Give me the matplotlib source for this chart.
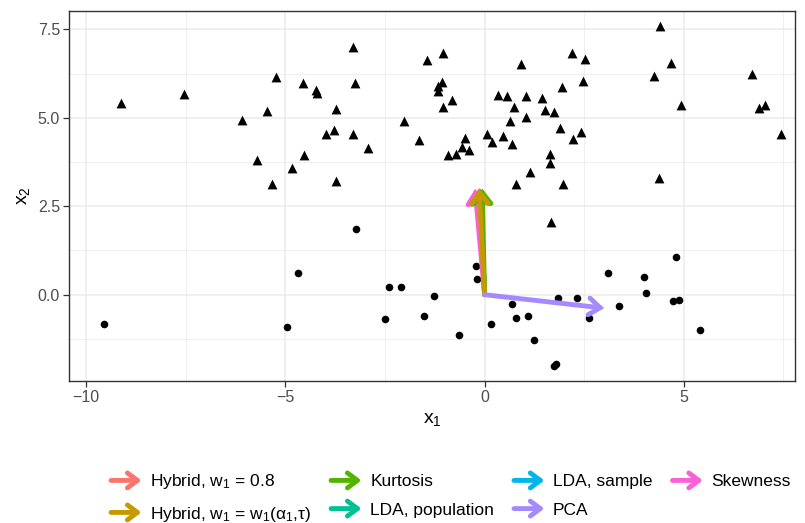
import matplotlib
matplotlib.use("Agg")
import matplotlib.pyplot as plt
import numpy as np
from matplotlib.lines import Line2D
from matplotlib.patches import FancyArrowPatch
from matplotlib.legend_handler import HandlerBase

plt.rcParams['font.family'] = ['Liberation Sans', 'DejaVu Sans']
plt.rcParams['mathtext.fontset'] = 'custom'
plt.rcParams['mathtext.rm'] = 'Liberation Sans'
plt.rcParams['mathtext.it'] = 'Liberation Sans'

# group 1 (triangles)
tri_x = [-9.12, -7.54, -6.09, -5.71, -5.46, -5.34, -5.24, -4.84, -4.56, -4.54,
         -4.24, -4.21, -3.99, -3.78, -3.73, -3.74, -3.31, -3.25, -3.30, -2.92,
         -2.02, -1.65, -1.45, -1.05, -1.16, -1.06, -1.16, -0.82, -1.05, -0.93,
         -0.71, -0.56, -0.48, -0.38, 0.07, 0.19, 0.46, 0.70, 0.34, 0.57,
         1.05, 0.73, 0.63, 1.03, 1.43, 1.51, 1.75, 1.93, 2.47, 2.20,
         2.53, 1.88, 2.42, 2.22, 1.64, 1.65, 1.13, 0.79, 1.97, 1.67,
         4.39, 4.67, 4.24, 4.93, 4.37, 6.72, 6.89, 7.03, 7.44, 0.91]
tri_y = [5.41, 5.67, 4.93, 3.80, 5.18, 3.14, 6.15, 3.57, 5.98, 3.94,
         5.78, 5.70, 4.55, 4.65, 5.24, 3.22, 7.00, 5.98, 4.53, 4.16,
         4.92, 4.37, 6.63, 6.84, 5.91, 6.01, 5.75, 5.50, 5.31, 3.94,
         3.97, 4.17, 4.44, 4.08, 4.53, 4.33, 4.48, 4.25, 5.64, 5.61,
         5.63, 5.31, 4.92, 5.02, 5.56, 5.21, 5.16, 5.87, 6.03, 6.82,
         6.66, 4.72, 4.61, 4.40, 3.99, 3.73, 3.46, 3.14, 3.12, 2.05,
         7.59, 6.54, 6.18, 5.35, 3.29, 6.23, 5.28, 5.37, 4.55, 6.51]

# group 2 (circles)
dot_x = [-9.56, -4.97, -4.69, -3.22, -2.39, -2.09, -2.51, -1.51, -1.27, -0.63,
         -0.22, -0.18, 0.69, 0.15, 0.79, 1.09, 1.23, 1.85, 2.31, 1.74,
         1.78, 2.61, 3.10, 3.37, 3.99, 4.04, 4.81, 4.73, 4.89, 5.41]
dot_y = [-0.84, -0.92, 0.62, 1.85, 0.21, 0.21, -0.68, -0.60, -0.03, -1.13,
         0.81, 0.44, -0.26, -0.83, -0.65, -0.61, -1.28, -0.08, -0.08, -2.01,
         -1.95, -0.66, 0.62, -0.31, 0.50, 0.06, 1.06, -0.19, -0.15, -1.01]

# projection directions (scaled to length 3)
methods = [r"Hybrid, w$_1$ = 0.8",
           r"Hybrid, w$_1$ = w$_1$($\alpha_1$,$\tau$)",
           "Kurtosis", "LDA, population", "LDA, sample", "PCA", "Skewness"]
dir_x = [-0.14, -0.14, -0.06, -0.12, -0.12, 3.00, -0.24]
dir_y = [3.00, 3.00, 3.00, 3.00, 3.00, -0.38, 2.99]
colors = ['#F8766D', '#C49A00', '#53B400', '#00C094', '#00B6EB', '#A58AFF', '#FB61D7']
draw_order = [0, 4, 3, 6, 2, 1, 5]

fig = plt.figure(figsize=(8.05, 5.23), dpi=100)
ax = fig.add_axes([69/805, 1 - 381/523, (795 - 69)/805, (381 - 11)/523])

ax.scatter(tri_x, tri_y, marker='^', s=50, color='black', linewidths=0, zorder=3)
ax.scatter(dot_x, dot_y, marker='o', s=30, color='black', linewidths=0, zorder=3)

for i in draw_order:
    ax.annotate('', xy=(dir_x[i], dir_y[i]), xytext=(0, 0),
                arrowprops=dict(arrowstyle='->,head_length=0.4,head_width=0.3',
                                mutation_scale=20, lw=3.5, color=colors[i],
                                shrinkA=0, shrinkB=0, joinstyle='miter'),
                zorder=4)

ax.set_xlim(-10.43, 7.79)
ax.set_ylim(-2.44, 8.02)
ax.set_xticks([-10, -5, 0, 5])
ax.set_yticks([0.0, 2.5, 5.0, 7.5])
ax.set_yticklabels(['0.0', '2.5', '5.0', '7.5'])
ax.set_xticks([-7.5, -2.5, 2.5, 7.5], minor=True)
ax.set_yticks([-1.25, 1.25, 3.75, 6.25], minor=True)
ax.grid(True, which='major', color='#EBEBEB', lw=1.1)
ax.grid(True, which='minor', color='#EBEBEB', lw=0.55)
ax.set_axisbelow(True)
ax.tick_params(which='minor', length=0)
ax.tick_params(which='major', length=4.5, color='#333333', width=0.9,
               labelsize=11.5, labelcolor='#4D4D4D', pad=2)
for s in ax.spines.values():
    s.set_color('#333333')
    s.set_linewidth(1.0)
ax.set_xlabel(r"x$_1$", fontsize=14, labelpad=4)
ax.set_ylabel(r"x$_2$", fontsize=14, labelpad=4)


class ArrowKey(HandlerBase):
    def create_artists(self, legend, orig_handle, xdescent, ydescent,
                       width, height, fontsize, trans):
        y = height / 2 - ydescent
        a = FancyArrowPatch((-xdescent, y), (width - xdescent, y),
                            arrowstyle='->,head_length=0.4,head_width=0.3',
                            mutation_scale=18, lw=3.5, color=orig_handle.get_color(),
                            shrinkA=0, shrinkB=0, transform=trans)
        return [a]


handles = [Line2D([], [], color=c) for c in colors]
fig.legend(handles, methods, handler_map={Line2D: ArrowKey()}, ncol=4,
           loc='center', bbox_to_anchor=(451/805, 1 - 498/523), frameon=False,
           fontsize=12.5, handlelength=1.75, handletextpad=0.5, columnspacing=1.15,
           labelspacing=0.75)

fig.savefig('out.png', dpi=100)
